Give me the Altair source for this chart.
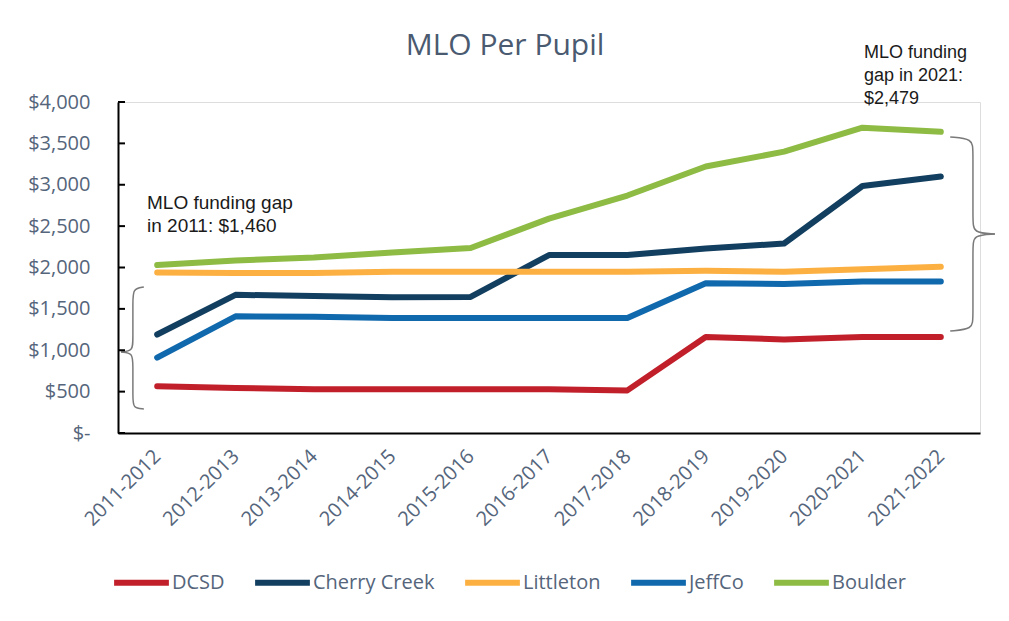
import altair as alt
import pandas as pd

seasons = ["2011-2012", "2012-2013", "2013-2014", "2014-2015", "2015-2016", "2016-2017",
           "2017-2018", "2018-2019", "2019-2020", "2020-2021", "2021-2022"]
series_names = ["DCSD", "Cherry Creek", "Littleton", "JeffCo", "Boulder"]
series_colors = ["#C1202B", "#123E5F", "#FDB042", "#1068AD", "#8EBB44"]

dcsd = [565, 545, 530, 530, 530, 530, 515, 1160, 1130, 1160, 1160]
cherry_creek = [1190, 1670, 1655, 1640, 1645, 2150, 2150, 2230, 2290, 2985, 3100]
littleton = [1940, 1935, 1935, 1950, 1950, 1950, 1950, 1960, 1950, 1980, 2010]
jeffco = [910, 1410, 1405, 1390, 1390, 1390, 1390, 1810, 1800, 1830, 1830]
boulder = [2030, 2085, 2120, 2180, 2235, 2590, 2870, 3220, 3400, 3690, 3640]

y_ticks = [0, 500, 1000, 1500, 2000, 2500, 3000, 3500, 4000]

# brace annotations (x in category index units, y in dollars)
left_brace_x = [-0.17, -0.31, -0.31, -0.31, -0.31, -0.46, -0.31, -0.31, -0.31, -0.31, -0.17]
left_brace_y = [1764, 1740, 1607, 1124, 991, 979, 967, 834, 423, 302, 290]
right_brace_x = [10.12, 10.41, 10.41, 10.41, 10.41, 10.69, 10.41, 10.41, 10.41, 10.41, 10.12]
right_brace_y = [3577, 3553, 3420, 2574, 2417, 2405, 2393, 2236, 1390, 1257, 1233]

note_texts = ["MLO funding gap\nin 2011: $1,460", "MLO funding\ngap in 2021:\n$2,479"]
note_x = [-0.13, 9.02]
note_y = [2707, 4532]
note_size = [19, 18]

chart_title = "MLO Per Pupil"

rows = []
for name, vals in zip(series_names, [dcsd, cherry_creek, littleton, jeffco, boulder]):
    for i, v in enumerate(vals):
        rows.append({"idx": i, "season": seasons[i], "value": v, "series": name})
df = pd.DataFrame(rows)

brace_rows = []
for bname, bx, by in [("L", left_brace_x, left_brace_y), ("R", right_brace_x, right_brace_y)]:
    for k, (xx, yy) in enumerate(zip(bx, by)):
        if k <= 5:
            brace_rows.append({"grp": bname + "a", "ord": k, "bx": xx, "by": yy})
        if k >= 5:
            brace_rows.append({"grp": bname + "b", "ord": k, "bx": xx, "by": yy})
brace_df = pd.DataFrame(brace_rows)

notes_df = pd.DataFrame({"text": note_texts, "nx": note_x, "ny": note_y, "size": note_size})
ticks_df = pd.DataFrame({"t": y_ticks})
title_df = pd.DataFrame({"text": [chart_title]})

LABEL_COLOR = "#55657B"
label_expr = "[" + ",".join("'%s'" % s for s in seasons) + "][datum.value]"

x_scale = alt.Scale(domain=[-0.5, 10.5], nice=False, zero=False)
y_scale = alt.Scale(domain=[0, 4000], nice=False)

x_axis = alt.Axis(values=list(range(11)), labelExpr=label_expr, labelAngle=-45, ticks=False,
                  grid=False, domainColor="#000000", domainWidth=2, labelFontSize=20,
                  labelFont="Open Sans", labelColor=LABEL_COLOR, labelPadding=20, title=None,
                  labelAlign="right", labelBaseline="middle", labelOverlap=False)
y_axis = alt.Axis(values=y_ticks,
                  labelExpr="datum.value == 0 ? '$-\u00a0\u00a0' : '$' + format(datum.value, ',')",
                  ticks=False, grid=False, domainColor="#000000", domainWidth=2, labelFontSize=20,
                  labelFont="Open Sans", labelColor=LABEL_COLOR, labelPadding=28, title=None)

lines = alt.Chart(df).mark_line(strokeWidth=6, strokeCap="round", strokeJoin="round").encode(
    x=alt.X("idx:Q", scale=x_scale, axis=x_axis),
    y=alt.Y("value:Q", scale=y_scale, axis=y_axis),
    color=alt.Color("series:N", scale=alt.Scale(domain=series_names, range=series_colors),
                    sort=series_names,
                    legend=alt.Legend(title=None, orient="none", direction="horizontal",
                                      legendX=-7, legendY=450, symbolType="stroke",
                                      symbolSize=3000, symbolStrokeWidth=6, labelFontSize=20,
                                      labelFont="Open Sans", labelColor=LABEL_COLOR,
                                      labelOffset=0, columnPadding=18, symbolOpacity=1)),
    detail="series:N",
)

braces = alt.Chart(brace_df).mark_line(interpolate="basis", color="#7A7A7A", strokeWidth=1.5).encode(
    x=alt.X("bx:Q", scale=x_scale),
    y=alt.Y("by:Q", scale=y_scale),
    detail="grp:N",
    order="ord:Q",
)

tick_marks = alt.Chart(ticks_df).mark_rule(color="#000000", strokeWidth=2).encode(
    y=alt.Y("t:Q", scale=y_scale),
    x=alt.value(0),
    x2=alt.value(7),
)

notes = alt.Chart(notes_df).mark_text(align="left", baseline="alphabetic", font="Liberation Sans",
                                      color="#1A1A1A", lineBreak="\n", lineHeight=23).encode(
    x=alt.X("nx:Q", scale=x_scale),
    y=alt.Y("ny:Q", scale=y_scale),
    text="text:N",
    size=alt.Size("size:Q", scale=None, legend=None),
)

title_mark = alt.Chart(title_df).mark_text(align="center", baseline="middle", font="Open Sans",
                                           fontSize=30, color="#4A5A70").encode(
    text="text:N",
    x=alt.value(387),
    y=alt.value(-56),
)

chart = alt.layer(lines, braces, tick_marks, notes, title_mark).properties(
    width=862,
    height=331,
    autosize=alt.AutoSizeParams(type="none"),
    padding={"left": 110, "top": 94, "right": 21, "bottom": 180},
).configure_view(stroke=None).configure(background="#FFFFFF")

chart.save("out.html", embed_options={"renderer": "svg", "actions": False})
